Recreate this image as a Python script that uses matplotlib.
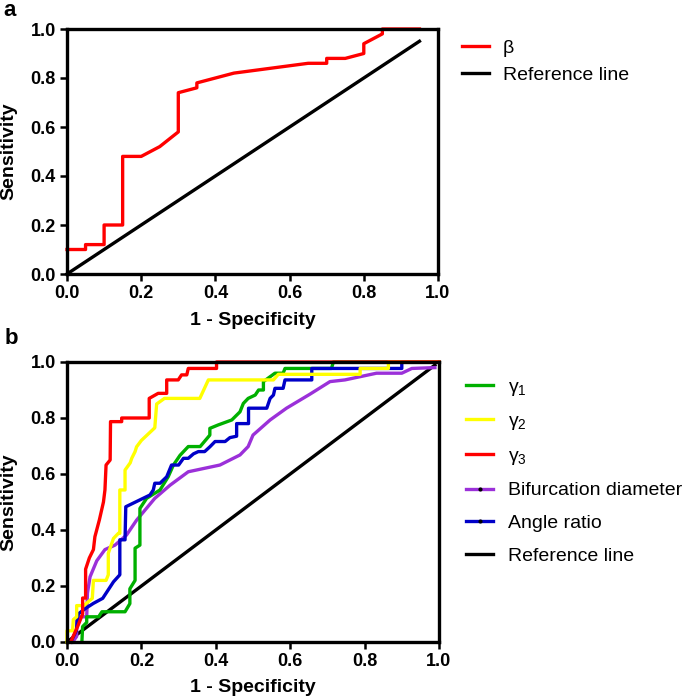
import matplotlib
matplotlib.use("Agg")
import matplotlib.pyplot as plt
from matplotlib.lines import Line2D

plt.rcParams['font.family'] = ['Liberation Sans', 'DejaVu Sans']
plt.rcParams['mathtext.fontset'] = 'custom'
plt.rcParams['mathtext.rm'] = 'Liberation Sans'
plt.rcParams['mathtext.it'] = 'Liberation Sans'
plt.rcParams['mathtext.bf'] = 'Liberation Sans:bold'

# ---------------- Panel a data ----------------
beta_fpr = [0.00, 0.05, 0.05, 0.10, 0.10, 0.15, 0.15, 0.20, 0.25, 0.30, 0.30, 0.35,
            0.35, 0.40, 0.45, 0.65, 0.70, 0.70, 0.75, 0.80, 0.80, 0.85, 0.85, 0.95]
beta_tpr = [0.10, 0.10, 0.12, 0.12, 0.20, 0.20, 0.48, 0.48, 0.52, 0.58, 0.74, 0.76,
            0.78, 0.80, 0.82, 0.86, 0.86, 0.88, 0.88, 0.90, 0.94, 0.98, 1.00, 1.00]
ref_a = [0.0, 0.95]

# ---------------- Panel b data ----------------
g1_fpr = [0.040, 0.042, 0.053, 0.053, 0.085, 0.094, 0.156, 0.169, 0.169, 0.183, 0.183, 0.196,
          0.196, 0.214, 0.250, 0.272, 0.286, 0.304, 0.326, 0.358, 0.384, 0.384, 0.406, 0.443,
          0.465, 0.474, 0.487, 0.506, 0.515, 0.528, 0.528, 0.559, 0.581, 0.586, 0.711, 0.716, 1.0]
g1_tpr = [0.000, 0.055, 0.070, 0.090, 0.090, 0.108, 0.108, 0.137, 0.190, 0.220, 0.335, 0.346,
          0.477, 0.513, 0.543, 0.590, 0.632, 0.667, 0.698, 0.698, 0.739, 0.763, 0.775, 0.793,
          0.822, 0.852, 0.870, 0.882, 0.900, 0.900, 0.930, 0.960, 0.960, 0.977, 0.977, 1.0, 1.0]

g2_fpr = [0.000, 0.000, 0.015, 0.017, 0.026, 0.026, 0.045, 0.068, 0.071, 0.105, 0.111, 0.111,
          0.125, 0.138, 0.142, 0.142, 0.156, 0.156, 0.170, 0.174, 0.183, 0.187, 0.200, 0.236,
          0.241, 0.262, 0.357, 0.380, 0.555, 0.568, 0.788, 0.788, 0.864, 0.864, 1.0]
g2_tpr = [0.000, 0.040, 0.040, 0.080, 0.090, 0.130, 0.130, 0.156, 0.220, 0.220, 0.240, 0.317,
          0.370, 0.388, 0.388, 0.543, 0.543, 0.614, 0.640, 0.656, 0.680, 0.697, 0.720, 0.765,
          0.850, 0.870, 0.870, 0.936, 0.936, 0.956, 0.956, 0.977, 0.977, 1.0, 1.0]

g3_fpr = [0.010, 0.030, 0.042, 0.042, 0.050, 0.050, 0.060, 0.071, 0.075, 0.087, 0.098, 0.102,
          0.105, 0.116, 0.117, 0.147, 0.147, 0.221, 0.221, 0.245, 0.268, 0.268, 0.299, 0.308,
          0.322, 0.326, 0.402, 0.402, 1.0]
g3_tpr = [0.000, 0.060, 0.100, 0.157, 0.157, 0.260, 0.300, 0.330, 0.376, 0.436, 0.500, 0.543,
          0.632, 0.650, 0.787, 0.787, 0.800, 0.800, 0.870, 0.888, 0.888, 0.936, 0.936, 0.954,
          0.954, 0.977, 0.977, 1.0, 1.0]

bif_fpr = [0.015, 0.026, 0.026, 0.053, 0.055, 0.062, 0.080, 0.102, 0.129, 0.160, 0.187, 0.236,
           0.277, 0.326, 0.411, 0.465, 0.487, 0.500, 0.546, 0.590, 0.653, 0.707, 0.747, 0.832,
           0.900, 0.927, 0.989]
bif_tpr = [0.000, 0.020, 0.090, 0.090, 0.175, 0.233, 0.290, 0.330, 0.346, 0.382, 0.435, 0.513,
           0.560, 0.608, 0.632, 0.668, 0.698, 0.739, 0.793, 0.835, 0.885, 0.930, 0.936, 0.960,
           0.960, 0.977, 0.980]

ang_fpr = [0.010, 0.025, 0.030, 0.050, 0.071, 0.096, 0.125, 0.142, 0.142, 0.156, 0.158, 0.223,
           0.232, 0.236, 0.250, 0.268, 0.281, 0.300, 0.313, 0.326, 0.340, 0.353, 0.370, 0.384,
           0.398, 0.425, 0.438, 0.456, 0.456, 0.488, 0.488, 0.537, 0.546, 0.555, 0.559, 0.581,
           0.586, 0.658, 0.658, 0.900, 0.900, 1.0]
ang_tpr = [0.000, 0.040, 0.100, 0.120, 0.138, 0.156, 0.215, 0.240, 0.365, 0.365, 0.483, 0.525,
           0.543, 0.567, 0.567, 0.590, 0.632, 0.632, 0.656, 0.656, 0.672, 0.680, 0.680, 0.697,
           0.716, 0.716, 0.730, 0.735, 0.780, 0.780, 0.835, 0.835, 0.870, 0.882, 0.906, 0.906,
           0.936, 0.936, 0.977, 0.977, 1.0, 1.0]
ref_b = [0.0, 0.989]

ticks = [0.0, 0.2, 0.4, 0.6, 0.8, 1.0]
tick_labels = ["0.0", "0.2", "0.4", "0.6", "0.8", "1.0"]

W, H = 685, 699
fig = plt.figure(figsize=(W / 100, H / 100), dpi=100)

def px_axes(l, t, r, b):
    return fig.add_axes([l / W, 1 - b / H, (r - l) / W, (b - t) / H])

ax_a = px_axes(67, 29, 438, 274)
ax_b = px_axes(67, 362, 439, 642)

LW = 2.4

def style(ax, wpx, hpx, xlab_top_px):
    ax.set_xlim(0, 1)
    ax.set_ylim(0, 1)
    ax.set_xticks(ticks)
    ax.set_yticks(ticks)
    ax.set_xticklabels(tick_labels)
    ax.set_yticklabels(tick_labels)
    for s in ax.spines.values():
        s.set_linewidth(2.4)
        s.set_zorder(5)
    ax.tick_params(direction='out', length=5, width=1.8, labelsize=13, pad=3)
    for lab in ax.get_xticklabels() + ax.get_yticklabels():
        lab.set_fontweight('bold')
    ax.set_xlabel("1 - Specificity", fontsize=14, fontweight='bold')
    ax.set_ylabel("Sensitivity", fontsize=14, fontweight='bold')
    ax.yaxis.set_label_coords(-50 / wpx, 0.5)
    ax.xaxis.set_label_coords(0.5, -xlab_top_px / hpx)

# Panel a
ax_a.plot(beta_fpr, beta_tpr, color='#ff0000', lw=LW, clip_on=False, zorder=3)
ax_a.plot(ref_a, ref_a, color='black', lw=LW, clip_on=False, zorder=3)
style(ax_a, 371, 245, 38)

h_a = [Line2D([], [], color='#ff0000', lw=LW), Line2D([], [], color='black', lw=LW)]
leg_a = fig.legend(h_a, ["β", "Reference line"], loc='upper left',
                   bbox_to_anchor=(462 / W, 1 - 39 / H), frameon=False, fontsize=14,
                   handlelength=1.4, handletextpad=0.7, labelspacing=0.5,
                   borderpad=0, borderaxespad=0)

# Panel b
ax_b.plot(ref_b, ref_b, color='black', lw=LW, clip_on=False, zorder=2)
ax_b.plot(bif_fpr, bif_tpr, color='#9b30d9', lw=LW, clip_on=False, zorder=3)
ax_b.plot(g1_fpr, g1_tpr, color='#00b000', lw=LW, clip_on=False, zorder=3)
ax_b.plot(ang_fpr, ang_tpr, color='#0000c8', lw=LW, clip_on=False, zorder=3.1)
ax_b.plot(g2_fpr, g2_tpr, color='#ffff00', lw=LW, clip_on=False, zorder=3.2)
ax_b.plot(g3_fpr, g3_tpr, color='#ff0000', lw=LW, clip_on=False, zorder=3.3)
style(ax_b, 372, 280, 37)

h_b = [Line2D([], [], color='#00b000', lw=LW),
       Line2D([], [], color='#ffff00', lw=LW),
       Line2D([], [], color='#ff0000', lw=LW),
       Line2D([], [], color='#9b30d9', lw=LW, marker='o', markersize=2,
              markerfacecolor='black', markeredgecolor='black'),
       Line2D([], [], color='#0000c8', lw=LW, marker='o', markersize=2,
              markerfacecolor='black', markeredgecolor='black'),
       Line2D([], [], color='black', lw=LW)]
labels_b = ["γ$_{1}$", "γ$_{2}$", "γ$_{3}$", "Bifurcation diameter", "Angle ratio", "Reference line"]
leg_b = fig.legend(h_b, labels_b, loc='upper left',
                   bbox_to_anchor=(466 / W, 1 - 378 / H), frameon=False, fontsize=14,
                   handlelength=1.4, handletextpad=0.75, labelspacing=0.77,
                   borderpad=0, borderaxespad=0)

fig.text(10 / W, 1 - 10 / H, "a", fontsize=16, fontweight='bold', ha='center', va='center')
fig.text(11 / W, 1 - 339 / H, "b", fontsize=16, fontweight='bold', ha='center', va='center')

fig.savefig("out.png", dpi=100)
